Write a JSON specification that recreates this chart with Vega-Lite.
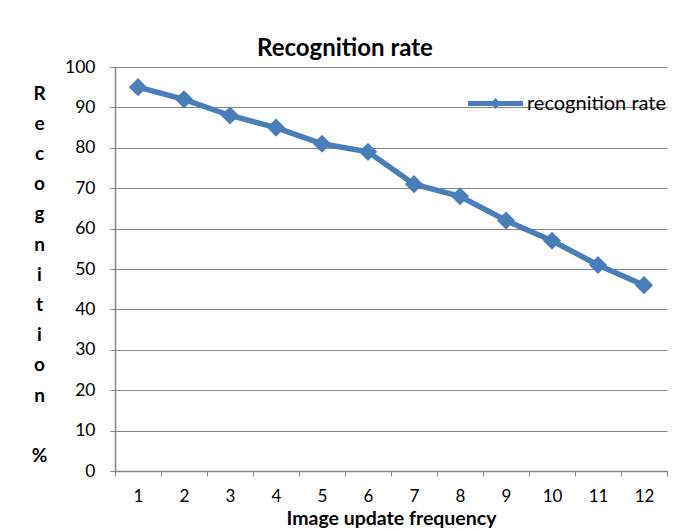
{
  "$schema": "https://vega.github.io/schema/vega-lite/v6.json",
  "autosize": "none",
  "width": 552,
  "height": 404,
  "padding": {"left": 115, "top": 67, "right": 16, "bottom": 58},
  "background": "white",
  "title": {
    "text": "Recognition rate",
    "frame": "group",
    "anchor": "middle",
    "dx": -46,
    "offset": -3,
    "font": "Lato",
    "fontSize": 24,
    "fontWeight": "bold",
    "color": "#000000"
  },
  "config": {
    "view": {"stroke": null},
    "font": "Lato"
  },
  "data": {
    "values": [
      {"freq": 1, "rate": 95, "series": "recognition rate"},
      {"freq": 2, "rate": 92, "series": "recognition rate"},
      {"freq": 3, "rate": 88, "series": "recognition rate"},
      {"freq": 4, "rate": 85, "series": "recognition rate"},
      {"freq": 5, "rate": 81, "series": "recognition rate"},
      {"freq": 6, "rate": 79, "series": "recognition rate"},
      {"freq": 7, "rate": 71, "series": "recognition rate"},
      {"freq": 8, "rate": 68, "series": "recognition rate"},
      {"freq": 9, "rate": 62, "series": "recognition rate"},
      {"freq": 10, "rate": 57, "series": "recognition rate"},
      {"freq": 11, "rate": 51, "series": "recognition rate"},
      {"freq": 12, "rate": 46, "series": "recognition rate"}
    ]
  },
  "mark": {
    "type": "line",
    "strokeWidth": 5.5,
    "point": {"shape": "diamond", "size": 330, "filled": true, "strokeWidth": 0}
  },
  "encoding": {
    "x": {
      "field": "freq",
      "type": "ordinal",
      "scale": {"type": "band", "paddingInner": 0, "paddingOuter": 0},
      "axis": {
        "title": "Image update frequency",
        "titleFont": "Lato",
        "titleFontSize": 19.5,
        "titleFontWeight": "bold",
        "titleColor": "#000000",
        "titlePadding": 5,
        "labelAngle": 0,
        "labelFont": "Lato",
        "labelFontSize": 17,
        "labelColor": "#000000",
        "labelPadding": 12,
        "tickBand": "extent",
        "tickSize": 5,
        "tickColor": "#868686",
        "domainColor": "#868686",
        "domainWidth": 1.5,
        "grid": false
      }
    },
    "y": {
      "field": "rate",
      "type": "quantitative",
      "scale": {"domain": [0, 100], "nice": false},
      "axis": {
        "values": [0, 10, 20, 30, 40, 50, 60, 70, 80, 90, 100],
        "title": ["R", "e", "c", "o", "g", "n", "i", "t", "i", "o", "n", "\u2800", "%"],
        "titleAngle": 0,
        "titleAlign": "center",
        "titleBaseline": "alphabetic",
        "titleX": -76,
        "titleY": 32,
        "titleLineHeight": 30.2,
        "titleFont": "Lato",
        "titleFontSize": 19,
        "titleFontWeight": "bold",
        "titleColor": "#000000",
        "labelFont": "Lato",
        "labelFontSize": 17.5,
        "labelColor": "#000000",
        "labelPadding": 15,
        "tickSize": 5,
        "tickColor": "#868686",
        "domainColor": "#868686",
        "domainWidth": 1.5,
        "grid": true,
        "gridColor": "#868686",
        "gridWidth": 1.2
      }
    },
    "color": {
      "field": "series",
      "type": "nominal",
      "scale": {"range": ["#4A7EBB"]},
      "legend": {
        "title": null,
        "orient": "none",
        "legendX": 353,
        "legendY": 9,
        "padding": 0,
        "symbolType": "M-1,-0.09H1V0.09H-1Z M0,-0.2L0.2,0L0,0.2L-0.2,0Z",
        "symbolSize": 3025,
        "symbolStrokeWidth": 0,
        "symbolFillColor": "#4A7EBB",
        "labelFont": "Lato",
        "labelFontSize": 20,
        "labelColor": "#000000",
        "labelOffset": 4
      }
    }
  }
}
